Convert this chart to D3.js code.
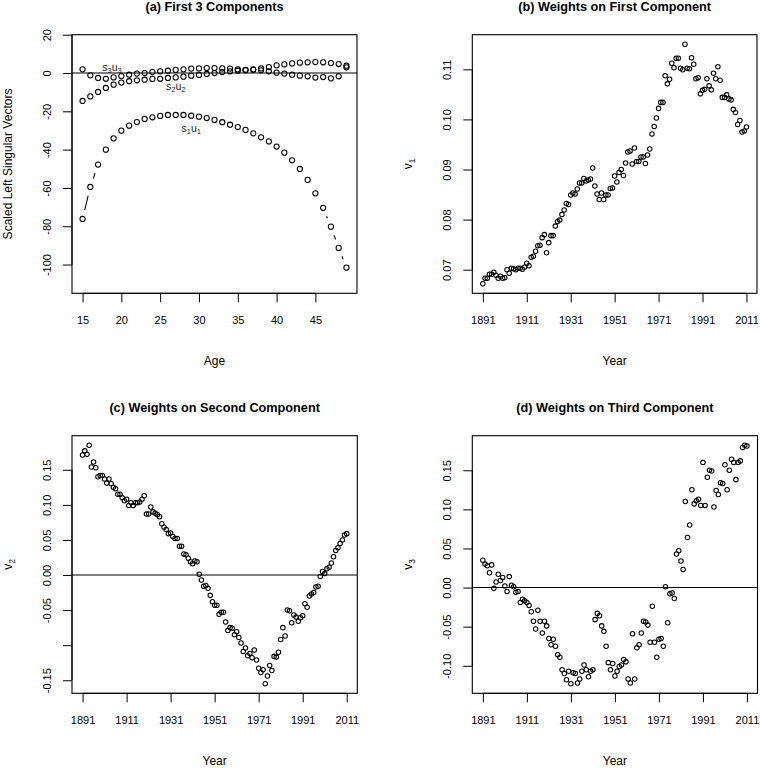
<!DOCTYPE html>
<html>
<head>
<meta charset="utf-8">
<script src="https://cdn.jsdelivr.net/npm/d3@7"></script>
<style>
  html, body { margin: 0; padding: 0; background: #fff; }
  svg { display: block; font-family: "Liberation Sans", Arial, Helvetica, sans-serif; }
</style>
</head>
<body>
<svg id="chart" width="760" height="768"></svg>
<script>
// ---------------- DATA ----------------
const ages = [15,16,17,18,19,20,21,22,23,24,25,26,27,28,29,30,31,32,33,34,35,36,37,38,39,40,41,42,43,44,45,46,47,48,49];

const s1u1 = [-76.2,-59.5,-47.8,-40.0,-34.1,-30.1,-27.5,-25.6,-24.0,-23.1,-22.4,-21.9,-21.9,-21.9,-22.3,-22.8,-23.5,-24.5,-25.7,-27.0,-28.2,-29.7,-31.5,-33.6,-35.7,-38.4,-41.6,-45.6,-50.1,-55.8,-62.8,-70.4,-80.2,-91.3,-101.6];
const s2u2 = [-14.6,-12.2,-9.9,-7.8,-6.1,-5.0,-4.3,-3.8,-3.5,-3.1,-3.0,-2.6,-2.3,-1.9,-1.4,-1.0,-0.5,0.0,0.5,0.9,1.2,1.4,1.6,1.4,0.9,0.2,-0.3,-0.9,-1.4,-1.7,-2.4,-2.1,-2.8,-1.7,3.0];
const s3u3 = [1.9,-1.2,-2.6,-3.0,-2.3,-1.6,-0.9,-0.3,0.0,0.5,0.9,1.2,1.6,1.9,2.3,2.4,2.6,2.6,2.4,2.3,1.9,1.7,1.9,2.4,3.1,4.0,4.5,5.0,5.4,5.6,5.7,5.6,5.2,4.7,3.8];

const ageTicks = [15,20,25,30,35,40,45];
const ageYTicks = [-100,-80,-60,-40,-20,0,20];
const ageYLim = [-110, 15];
const compLabels = [
  {age: 18.8, value: 2.8, s: "3"},
  {age: 27.0, value: -7.1, s: "2"},
  {age: 29.0, value: -28.9, s: "1"}
];

const years = [1891,1892,1893,1894,1895,1896,1897,1898,1899,1900,1901,1902,1903,1904,1905,1906,1907,1908,1909,1910,
1911,1912,1913,1914,1915,1916,1917,1918,1919,1920,1921,1922,1923,1924,1925,1926,1927,1928,1929,1930,
1931,1932,1933,1934,1935,1936,1937,1938,1939,1940,1941,1942,1943,1944,1945,1946,1947,1948,1949,1950,
1951,1952,1953,1954,1955,1956,1957,1958,1959,1960,1961,1962,1963,1964,1965,1966,1967,1968,1969,1970,
1971,1972,1973,1974,1975,1976,1977,1978,1979,1980,1981,1982,1983,1984,1985,1986,1987,1988,1989,1990,
1991,1992,1993,1994,1995,1996,1997,1998,1999,2000,2001,2002,2003,2004,2005,2006,2007,2008,2009,2010,2011];

const v1 = [0.0672,0.0683,0.0683,0.0691,0.0691,0.0695,0.0689,0.0683,0.0687,0.0683,
0.0684,0.0700,0.0693,0.0703,0.0702,0.0700,0.0703,0.0703,0.0701,0.0705,
0.0713,0.0708,0.0725,0.0727,0.0737,0.0748,0.0749,0.0764,0.0770,0.0734,
0.0754,0.0768,0.0768,0.0787,0.0796,0.0799,0.0810,0.0819,0.0832,0.0830,
0.0849,0.0853,0.0851,0.0861,0.0873,0.0873,0.0882,0.0877,0.0879,0.0881,
0.0903,0.0867,0.0851,0.0840,0.0853,0.0840,0.0849,0.0849,0.0862,0.0863,
0.0887,0.0875,0.0894,0.0900,0.0888,0.0913,0.0935,0.0937,0.0911,0.0943,
0.0916,0.0916,0.0925,0.0925,0.0912,0.0929,0.0941,0.0971,0.0986,0.1003,
0.1022,0.1034,0.1034,0.1087,0.1071,0.1080,0.1112,0.1103,0.1122,0.1122,
0.1102,0.1099,0.1150,0.1102,0.1101,0.1123,0.1110,0.1081,0.1083,0.1051,
0.1058,0.1060,0.1081,0.1067,0.1059,0.1092,0.1081,0.1105,0.1078,0.1044,
0.1044,0.1049,0.1041,0.1039,0.1020,0.1014,0.0990,0.0998,0.0975,0.0977,0.0985];

const v2 = [0.171,0.177,0.172,0.185,0.154,0.161,0.153,0.140,0.142,0.142,
0.137,0.131,0.137,0.130,0.125,0.123,0.115,0.115,0.110,0.106,
0.108,0.099,0.103,0.099,0.103,0.103,0.104,0.108,0.113,0.087,
0.087,0.097,0.090,0.088,0.086,0.083,0.073,0.068,0.065,0.059,
0.060,0.055,0.052,0.052,0.041,0.041,0.030,0.029,0.024,0.019,
0.016,0.020,0.019,0.001,-0.007,-0.016,-0.015,-0.019,-0.029,-0.038,
-0.043,-0.043,-0.056,-0.053,-0.053,-0.067,-0.079,-0.075,-0.076,-0.085,
-0.081,-0.089,-0.097,-0.109,-0.104,-0.115,-0.112,-0.118,-0.107,-0.121,
-0.133,-0.139,-0.135,-0.155,-0.144,-0.129,-0.136,-0.116,-0.117,-0.110,
-0.092,-0.075,-0.087,-0.050,-0.051,-0.068,-0.057,-0.060,-0.066,-0.061,
-0.058,-0.041,-0.046,-0.030,-0.027,-0.025,-0.017,-0.016,-0.002,0.005,
0.002,0.009,0.011,0.017,0.026,0.035,0.039,0.045,0.050,0.057,0.059];

const v3 = [0.035,0.030,0.028,0.019,0.029,-0.001,0.007,0.017,0.009,0.013,
0.002,-0.005,0.014,0.003,0.001,-0.006,-0.005,-0.019,-0.015,-0.017,
-0.019,-0.023,-0.031,-0.043,-0.053,-0.029,-0.043,-0.058,-0.043,-0.049,
-0.065,-0.073,-0.066,-0.075,-0.086,-0.089,-0.105,-0.110,-0.118,-0.107,
-0.123,-0.109,-0.110,-0.122,-0.117,-0.107,-0.099,-0.105,-0.114,-0.107,
-0.105,-0.041,-0.033,-0.036,-0.049,-0.056,-0.075,-0.096,-0.105,-0.097,
-0.113,-0.107,-0.101,-0.099,-0.092,-0.095,-0.117,-0.122,-0.059,-0.117,
-0.077,-0.073,-0.058,-0.043,-0.044,-0.048,-0.070,-0.024,-0.070,-0.089,
-0.066,-0.065,-0.075,0.001,-0.045,-0.008,-0.007,-0.014,0.043,0.047,
0.034,0.023,0.110,0.064,0.080,0.125,0.107,0.111,0.113,0.105,
0.160,0.105,0.141,0.150,0.149,0.103,0.124,0.119,0.134,0.133,
0.157,0.125,0.150,0.164,0.160,0.138,0.160,0.162,0.179,0.182,0.181];

const yearTicks = [1891,1911,1931,1951,1971,1991,2011];
const v1Ticks = [0.07,0.08,0.09,0.10,0.11];
const v1TickLabels = ["0.07","0.08","0.09","0.10","0.11"];
const v2Ticks = [-0.15,-0.10,-0.05,0,0.05,0.10,0.15];
const v2TickLabels = ["-0.15","","-0.05","0.00","0.05","0.10","0.15"];
const v3Ticks = [-0.10,-0.05,0,0.05,0.10,0.15];
const v3TickLabels = ["-0.10","-0.05","0.00","0.05","0.10","0.15"];

// ---------------- LAYOUT ----------------
const svg = d3.select("#chart");
const TICK_FS = 11, LAB_FS = 12, TITLE_FS = 12.7;

function pad(ext) { const r = ext[1]-ext[0]; return [ext[0]-0.04*r, ext[1]+0.04*r]; }

function panel(o) {
  const g = svg.append("g");
  const x = d3.scaleLinear().domain(o.xdom).range([o.left, o.right]);
  const y = d3.scaleLinear().domain(o.ydom).range([o.bottom, o.top]);

  // title
  g.append("text").attr("x", (o.left+o.right)/2).attr("y", o.top - 23.5)
    .attr("text-anchor","middle").attr("font-weight","bold").attr("font-size", TITLE_FS)
    .text(o.title);

  // x axis
  const xa = g.append("g").attr("transform", `translate(0,${o.bottom})`)
    .call(d3.axisBottom(x).tickValues(o.xticks).tickSize(9).tickPadding(14).tickFormat(d3.format("d")));
  xa.select(".domain").remove();
  xa.selectAll("line").attr("stroke","#000");
  xa.selectAll("text").attr("font-size", TICK_FS).attr("fill","#000").attr("font-family", null);
  g.append("line").attr("x1", x(o.xticks[0])).attr("x2", x(o.xticks[o.xticks.length-1]))
    .attr("y1", o.bottom).attr("y2", o.bottom).attr("stroke","#000");

  // y axis
  const ya = g.append("g").attr("transform", `translate(${o.left},0)`)
    .call(d3.axisLeft(y).tickValues(o.yticks).tickSize(9).tickFormat((d,i) => o.ylabels[i]));
  ya.select(".domain").remove();
  ya.selectAll("line").attr("stroke","#000");
  ya.selectAll("text").attr("font-size", TICK_FS).attr("fill","#000").attr("font-family", null)
    .attr("transform","rotate(-90)").attr("x",0).attr("y",-21).attr("dy",null)
    .attr("text-anchor","middle");
  g.append("line").attr("x1", o.left).attr("x2", o.left)
    .attr("y1", y(o.yticks[0])).attr("y2", y(o.yticks[o.yticks.length-1])).attr("stroke","#000");

  // axis titles
  g.append("text").attr("x", (o.left+o.right)/2).attr("y", o.bottom + 72)
    .attr("text-anchor","middle").attr("font-size", LAB_FS).text(o.xlab);
  const yl = g.append("text").attr("transform", `translate(${o.left-60},${(o.top+o.bottom)/2}) rotate(-90)`)
    .attr("text-anchor","middle").attr("font-size", LAB_FS);
  if (o.ysub) {
    yl.append("tspan").text(o.ylab);
    yl.append("tspan").attr("font-size", LAB_FS*0.7).attr("dy", 3).text(o.ysub);
  } else yl.text(o.ylab);

  // zero line
  if (o.zero) {
    g.append("line").attr("x1", o.left).attr("x2", o.right).attr("y1", y(0)).attr("y2", y(0))
      .attr("stroke","#000").attr("stroke-width",1.1);
  }

  // box
  g.append("rect").attr("x", o.left).attr("y", o.top).attr("width", o.right-o.left)
    .attr("height", o.bottom-o.top).attr("fill","none").attr("stroke","#000").attr("stroke-width",1.1);

  return {g, x, y};
}

function points(p, xs, ys, r) {
  p.g.append("g").selectAll("circle").data(xs).join("circle")
    .attr("cx", (d) => p.x(d)).attr("cy", (d,i) => p.y(ys[i])).attr("r", r)
    .attr("fill","none").attr("stroke","#000").attr("stroke-width",1.05);
}

function gapLines(p, xs, ys, gap) {
  const g = p.g.append("g");
  for (let i = 0; i < xs.length-1; i++) {
    const x1 = p.x(xs[i]), y1 = p.y(ys[i]), x2 = p.x(xs[i+1]), y2 = p.y(ys[i+1]);
    const dx = x2-x1, dy = y2-y1, d = Math.hypot(dx,dy);
    if (d > 2*gap) {
      const ux = dx/d, uy = dy/d;
      g.append("line").attr("x1", x1+ux*gap).attr("y1", y1+uy*gap)
        .attr("x2", x2-ux*gap).attr("y2", y2-uy*gap).attr("stroke","#000").attr("stroke-width",1.05);
    }
  }
}

// ---------------- PANEL A ----------------
const pa = panel({left:72, right:357, top:34.7, bottom:293.3,
  xdom: pad(d3.extent(ages)), ydom: pad(ageYLim),
  xticks: ageTicks, yticks: ageYTicks, ylabels: ageYTicks.map(String),
  title: "(a) First 3 Components", xlab: "Age", ylab: "Scaled Left Singular Vectors", zero: true});
[s1u1, s2u2, s3u3].forEach(s => { gapLines(pa, ages, s, 9); points(pa, ages, s, 2.6); });
compLabels.forEach(l => {
  const t = pa.g.append("text").attr("x", pa.x(l.age)).attr("y", pa.y(l.value)+3.5)
    .attr("text-anchor","middle").attr("font-size", 10.5).attr("fill","#222");
  t.append("tspan").text("s");
  t.append("tspan").attr("font-size", 7.5).attr("dy", 2).text(l.s);
  t.append("tspan").attr("dy", -2).text("u");
  t.append("tspan").attr("font-size", 7.5).attr("dy", 2).text(l.s);
});

// ---------------- PANEL B ----------------
const pb = panel({left:472.3, right:757, top:34.7, bottom:293.3,
  xdom: pad(d3.extent(years)), ydom: pad(d3.extent(v1)),
  xticks: yearTicks, yticks: v1Ticks, ylabels: v1TickLabels,
  title: "(b) Weights on First Component", xlab: "Year", ylab: "v", ysub: "1"});
points(pb, years, v1, 2.25);

// ---------------- PANEL C ----------------
const pc = panel({left:72, right:357.3, top:435.7, bottom:693.3,
  xdom: pad(d3.extent(years)), ydom: pad(d3.extent(v2)),
  xticks: yearTicks, yticks: v2Ticks, ylabels: v2TickLabels,
  title: "(c) Weights on Second Component", xlab: "Year", ylab: "v", ysub: "2", zero: true});
points(pc, years, v2, 2.25);

// ---------------- PANEL D ----------------
const pd = panel({left:472.3, right:757.5, top:435.7, bottom:693.3,
  xdom: pad(d3.extent(years)), ydom: pad(d3.extent(v3)),
  xticks: yearTicks, yticks: v3Ticks, ylabels: v3TickLabels,
  title: "(d) Weights on Third Component", xlab: "Year", ylab: "v", ysub: "3", zero: true});
points(pd, years, v3, 2.25);
</script>
</body>
</html>
